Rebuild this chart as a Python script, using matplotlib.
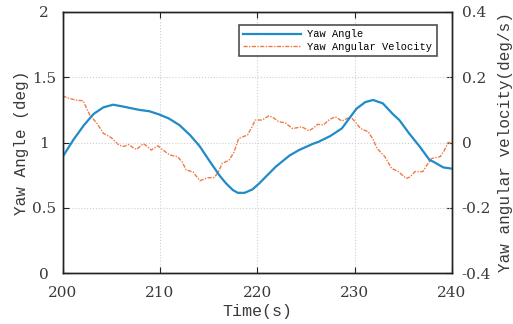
import matplotlib
matplotlib.use("Agg")
import matplotlib.pyplot as plt
import matplotlib.transforms as mtransforms

# Yaw angle (left axis)
t_angle = [200, 201.1, 202.2, 203.2, 204.2, 205.2, 206.2, 207.9, 208.9, 209.9, 210.9, 212.0, 213.1,
           214.1, 215.1, 216.2, 216.8, 217.5, 218.0, 218.7, 219.5, 220.2, 220.9, 221.9, 223.3, 224.3,
           225.7, 226.3, 227.5, 228.7, 229.7, 230.2, 231.1, 231.9, 232.9, 233.9, 234.6, 235.6, 236.7,
           237.7, 238.1, 239.1, 240]
yaw_angle = [0.89, 1.02, 1.134, 1.22, 1.27, 1.29, 1.276, 1.25, 1.24, 1.216, 1.185, 1.134, 1.057,
             0.97, 0.858, 0.74, 0.687, 0.636, 0.615, 0.615, 0.641, 0.687, 0.74, 0.815, 0.90, 0.943,
             0.99, 1.006, 1.05, 1.109, 1.21, 1.26, 1.31, 1.326, 1.30, 1.22, 1.172, 1.07, 0.968,
             0.866, 0.853, 0.81, 0.80]

# Yaw angular velocity (right axis)
t_vel = [200, 200.7, 201.4, 202.1, 202.8, 203.5, 204.2, 205.0, 205.8, 206.3, 206.8, 207.2, 207.6,
         208.3, 208.7, 209.1, 209.8, 210.4, 211.0, 211.8, 212.3, 212.7, 213.4, 214.1, 214.9,
         215.6, 216.0, 216.4, 217.1, 217.6, 218.1, 219.0, 219.4, 219.8, 220.5, 221.2, 221.7,
         222.2, 222.9, 223.6, 224.6, 225.3, 225.8, 226.2, 226.8, 227.4, 228.0, 228.7, 229.6,
         230.1, 230.6, 231.4, 231.9, 232.3, 233.1, 233.8, 234.5, 235.3, 235.7, 236.2, 237.0,
         237.4, 237.9, 238.8, 239.2, 239.6, 240]
yaw_vel = [0.143, 0.135, 0.13, 0.128, 0.084, 0.06, 0.028, 0.015, -0.008, -0.012, -0.006, -0.015,
           -0.021, -0.003, -0.012, -0.023, -0.01, -0.025, -0.038, -0.043, -0.06, -0.084, -0.09,
           -0.117, -0.108, -0.107, -0.09, -0.064, -0.054, -0.03, 0.013, 0.023, 0.045, 0.069,
           0.069, 0.082, 0.075, 0.064, 0.06, 0.043, 0.048, 0.036, 0.045, 0.056, 0.054, 0.07,
           0.079, 0.066, 0.079, 0.062, 0.043, 0.033, 0.01, -0.018, -0.043, -0.079, -0.089,
           -0.11, -0.105, -0.089, -0.089, -0.07, -0.049, -0.043, -0.025, 0.0, 0.0]

x_ticks = [200, 210, 220, 230, 240]
left_ticks = [0, 0.5, 1, 1.5, 2]
left_labels = ["0", "0.5", "1", "1.5", "2"]
right_ticks = [-0.4, -0.2, 0, 0.2, 0.4]
right_labels = ["-0.4", "-0.2", "0", "0.2", "0.4"]

blue = "#1f8bc8"
orange = "#f07a45"
tick_color = "#3a3a3a"

fig = plt.figure(figsize=(5.13, 3.24), dpi=100)
ax = fig.add_axes([0.122, 0.157, 0.759, 0.806])
ax2 = ax.twinx()

ax.set_zorder(ax2.get_zorder() + 1)
ax.patch.set_visible(False)

la, = ax.plot(t_angle, yaw_angle, color=blue, lw=1.6, label="Yaw Angle",
              solid_joinstyle="round")
lv, = ax2.plot(t_vel, yaw_vel, color=orange, lw=1.0, ls=(0, (3, 1, 1, 1)),
               label="Yaw Angular Velocity")

ax.set_xlim(200, 240)
ax.set_ylim(0, 2)
ax2.set_ylim(-0.4, 0.4)
ax.set_xticks(x_ticks)
ax.set_yticks(left_ticks)
ax.set_yticklabels(left_labels)
ax2.set_yticks(right_ticks)
ax2.set_yticklabels(right_labels)

serif = "DejaVu Serif"
mono = "Liberation Mono"
for a in (ax, ax2):
    for lbl in a.get_xticklabels() + a.get_yticklabels():
        lbl.set_fontfamily(serif)
        lbl.set_fontsize(11)
        lbl.set_color(tick_color)
    a.tick_params(direction="in", length=4, width=0.8, colors="#222222", labelcolor=tick_color)
    for s in a.spines.values():
        s.set_color("#222222")
        s.set_linewidth(1.0)
ax.tick_params(axis="x", top=True, pad=9)
ax.tick_params(axis="y", pad=13.5)
for lbl in ax.get_yticklabels():
    lbl.set_horizontalalignment("center")
ax2.tick_params(axis="y", pad=7)

ax.grid(True, color="#d0d0d0", ls=":", lw=0.8)

ax.set_xlabel("Time(s)", fontfamily=mono, fontsize=12, color=tick_color, labelpad=3)
ax.set_ylabel("Yaw Angle (deg)", fontfamily=mono, fontsize=11.5, color=tick_color, labelpad=2)
ax2.set_ylabel("Yaw angular velocity(deg/s)", fontfamily=mono, fontsize=11.5,
               color=tick_color, labelpad=5)

leg = ax.legend(handles=[la, lv], loc="upper right", bbox_to_anchor=(0.974, 0.972),
                prop={"family": mono, "size": 7.5}, frameon=True, fancybox=False,
                edgecolor="#222222", handlelength=5.5, borderpad=0.45, labelspacing=0.25,
                handletextpad=0.6)
leg.get_frame().set_linewidth(1.2)

fig.savefig("out.png", dpi=100)
